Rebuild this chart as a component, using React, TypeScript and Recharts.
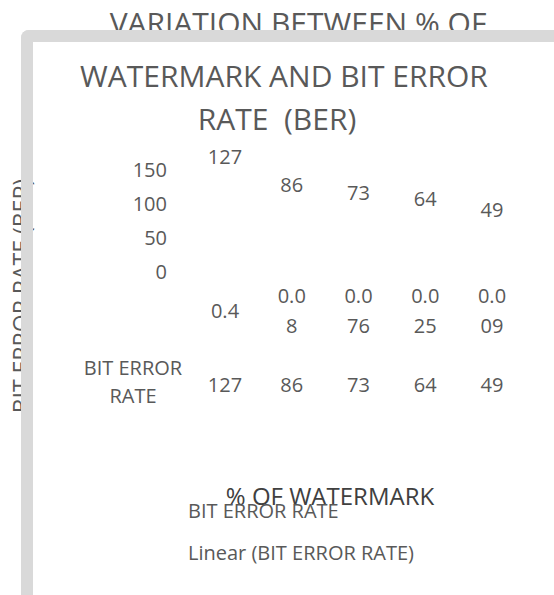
import { ComposedChart, Line, XAxis, YAxis, LabelList, Legend } from 'recharts';

const watermarkPct = ['0.4', '0.08', '0.076', '0.025', '0.009'];
const berValues = [127, 86, 73, 64, 49];
const yTicks = [0, 50, 100, 150];
const titleLines = ['VARIATION BETWEEN % OF', 'WATERMARK AND BIT ERROR', 'RATE  (BER)'];
const legendLabels = ['BIT ERROR RATE', 'Linear (BIT ERROR RATE)'];
const seriesName = 'BIT ERROR RATE';

const chartData = watermarkPct.map((pct, i) => ({ pct, ber: berValues[i] }));

const FONT = '"Open Sans", "Noto Sans", sans-serif';
const TEXT = '#595959';

// category labels wrap at 3 characters, like the narrow Excel data table cells
function wrap(label: string) {
  const out: string[] = [];
  for (let i = 0; i < label.length; i += 3) out.push(label.slice(i, i + 3));
  return out;
}

function TableTick(props: any) {
  const { x, y, payload, index } = props;
  const lines = wrap(String(payload.value));
  const lh = 30;
  const mid = y + 39;
  const first = mid - ((lines.length - 1) * lh) / 2;
  return (
    <g fontFamily={FONT} fontSize={20} fill={TEXT} textAnchor="middle">
      {lines.map((l, i) => (
        <text key={i} x={x} y={first + i * lh} dy="0.35em">
          {l}
        </text>
      ))}
      <text x={x} y={y + 113} dy="0.35em">
        {berValues[index]}
      </text>
      {index === 0 && (
        <>
          <text x={x - 92} y={y + 96} dy="0.35em">BIT ERROR</text>
          <text x={x - 92} y={y + 124} dy="0.35em">RATE</text>
        </>
      )}
    </g>
  );
}

function LegendBox() {
  return (
    <div style={{ fontFamily: FONT, fontSize: 20, color: TEXT, position: 'relative' }}>
      {legendLabels.map((l, i) => (
        <div key={l} style={{ position: 'absolute', left: 0, top: i * 42, lineHeight: '26px', whiteSpace: 'nowrap' }}>
          {l}
        </div>
      ))}
    </div>
  );
}

export default function App() {
  const titleCenters = [23, 76, 119];
  const titleX = [298, 284, 277];
  return (
    <div style={{ position: 'absolute', left: 0, top: 0, width: 554, height: 595, background: '#fff', overflow: 'hidden' }}>
      <ComposedChart
        width={554}
        height={595}
        data={chartData}
        margin={{ top: 170, right: 28, bottom: 0, left: 0 }}
      >
        <XAxis
          dataKey="pct"
          height={323}
          padding={{ left: 34, right: 34 }}
          axisLine={false}
          tickLine={false}
          tickSize={0}
          tickMargin={0}
          interval={0}
          tick={<TableTick />}
          label={{
            content: () => (
              <text x={330} y={497} dy="0.35em" textAnchor="middle" fontFamily={FONT} fontSize={24} fill="#404040">
                % OF WATERMARK
              </text>
            ),
          }}
        />
        <YAxis
          domain={[0, 150]}
          ticks={yTicks}
          width={191}
          axisLine={false}
          tickLine={false}
          tickSize={0}
          tickMargin={24}
          tick={{ fontFamily: FONT, fontSize: 20, fill: TEXT }}
        />
        <Legend
          layout="horizontal"
          verticalAlign="middle"
          align="center"
          content={<LegendBox />}
          wrapperStyle={{ left: 188, top: 498, width: 300, height: 80 }}
        />
        <Line
          dataKey="ber"
          name={seriesName}
          stroke="none"
          dot={false}
          activeDot={false}
          isAnimationActive={false}
        >
          <LabelList dataKey="ber" position="top" offset={22} fontFamily={FONT} fontSize={20} fill={TEXT} />
        </Line>
      </ComposedChart>

      {titleLines.map((t, i) => (
        <div
          key={t}
          style={{
            position: 'absolute',
            left: titleX[i] - 270,
            width: 540,
            top: titleCenters[i] - 20,
            lineHeight: '40px',
            textAlign: 'center',
            fontFamily: FONT,
            fontSize: 30,
            color: TEXT,
            whiteSpace: 'pre',
          }}
        >
          {t}
        </div>
      ))}

      <svg width={60} height={595} style={{ position: 'absolute', left: 0, top: 0 }}>
        <text
          x={30}
          y={296}
          transform="rotate(-90, 30, 296)"
          textAnchor="middle"
          fontFamily={FONT}
          fontSize={23}
          fill={TEXT}
        >
          BIT ERROR RATE (BER)
        </text>
      </svg>

      <div
        style={{
          position: 'absolute',
          left: 21,
          top: 30,
          width: 560,
          height: 600,
          boxSizing: 'border-box',
          borderLeft: '12px solid #d9d9d9',
          borderTop: '12px solid #d9d9d9',
          borderTopLeftRadius: 8,
          pointerEvents: 'none',
        }}
      />
    </div>
  );
}
